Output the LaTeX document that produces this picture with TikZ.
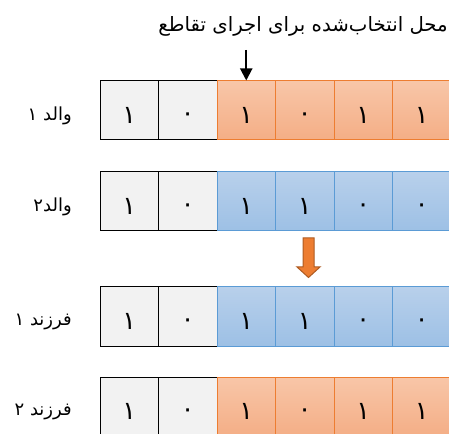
\documentclass[tikz,border=0pt]{standalone}
\usepackage{fontspec}
\newfontfamily\arabicfont[Script=Arabic]{DejaVu Sans}
\TeXXeTstate=1
\usetikzlibrary{arrows.meta}
\definecolor{orgB}{HTML}{ED7D31}
\definecolor{orgT}{HTML}{F8C6A8}
\definecolor{orgD}{HTML}{F4AE86}
\definecolor{bluB}{HTML}{5B9BD5}
\definecolor{bluT}{HTML}{B8D0EB}
\definecolor{bluD}{HTML}{9DC0E5}
\definecolor{grayF}{HTML}{F2F2F2}
\definecolor{arrF}{HTML}{ED7D31}
\definecolor{arrB}{HTML}{AE5A21}
\newcommand\dgone{\raisebox{-9.9pt}{\beginR ۱\endR}}
\newcommand\dgzero{\raisebox{-8.6pt}{\beginR ۰\endR}}
\begin{document}
\begin{tikzpicture}[x=0.75pt,y=-0.75pt,
  cell/.style={minimum width=43.875pt, minimum height=44.25pt, inner sep=0pt, line width=0.75pt,
    font=\arabicfont\fontsize{19}{19}\selectfont, text height=0pt, text depth=0pt},
  graycell/.style={cell, draw=black, fill=grayF},
  orgcell/.style={cell, draw=orgB, top color=orgT, bottom color=orgD},
  blucell/.style={cell, draw=bluB, top color=bluT, bottom color=bluD},
  lbl/.style={anchor=east, inner sep=0pt, font=\arabicfont\fontsize{13.5}{13.5}\selectfont},
]
\useasboundingbox (0,0) rectangle (449,434);
\begin{scope}
\clip (0,0) rectangle (449,434);
% title
\node[anchor=east, inner sep=0pt, font=\arabicfont\fontsize{14.8}{14.8}\selectfont] (title) at (448,26)
  {\beginR محل انتخاب‌شده برای اجرای تقاطع\endR};
% row 1 (parent 1)
\node[graycell] (r1c1) at (129.25,110.5) {\dgone};
\node[graycell] (r1c2) at (187.75,110.5) {\dgzero};
\node[orgcell]  (r1c3) at (246.25,110.5) {\dgone};
\node[orgcell]  (r1c4) at (304.75,110.5) {\dgzero};
\node[orgcell]  (r1c5) at (363.25,110.5) {\dgone};
\node[orgcell]  (r1c6) at (421.75,110.5) {\dgone};
% row 2 (parent 2)
\node[graycell] (r2c1) at (129.25,201.5) {\dgone};
\node[graycell] (r2c2) at (187.75,201.5) {\dgzero};
\node[blucell]  (r2c3) at (246.25,201.5) {\dgone};
\node[blucell]  (r2c4) at (304.75,201.5) {\dgone};
\node[blucell]  (r2c5) at (363.25,201.5) {\dgzero};
\node[blucell]  (r2c6) at (421.75,201.5) {\dgzero};
% row 3 (child 1)
\node[graycell] (r3c1) at (129.25,316.5) {\dgone};
\node[graycell] (r3c2) at (187.75,316.5) {\dgzero};
\node[blucell]  (r3c3) at (246.25,316.5) {\dgone};
\node[blucell]  (r3c4) at (304.75,316.5) {\dgone};
\node[blucell]  (r3c5) at (363.25,316.5) {\dgzero};
\node[blucell]  (r3c6) at (421.75,316.5) {\dgzero};
% row 4 (child 2)
\node[graycell] (r4c1) at (129.25,406.5) {\dgone};
\node[graycell] (r4c2) at (187.75,406.5) {\dgzero};
\node[orgcell]  (r4c3) at (246.25,406.5) {\dgone};
\node[orgcell]  (r4c4) at (304.75,406.5) {\dgzero};
\node[orgcell]  (r4c5) at (363.25,406.5) {\dgone};
\node[orgcell]  (r4c6) at (421.75,406.5) {\dgone};
% labels
\node[lbl] (l1) at (72,116) {\beginR والد ۱\endR};
\node[lbl] (l2) at (72,207) {\beginR والد۲\endR};
\node[lbl] (l3) at (72,322) {\beginR فرزند ۱\endR};
\node[lbl] (l4) at (72,412) {\beginR فرزند ۲\endR};
% black arrow
\coordinate (arrStart) at (246.25,50);
\draw[line width=1.5pt, -{Triangle[width=9pt,length=9pt]}] (arrStart) -- (r1c3.north);
% orange block arrow
\draw[fill=arrF, draw=arrB, line width=0.75pt]
  (303,238) -- (314,238) -- (314,267) -- (320,267) -- (308.5,277.5) -- (297,267) -- (303,267) -- cycle;
\end{scope}
\end{tikzpicture}
\end{document}
